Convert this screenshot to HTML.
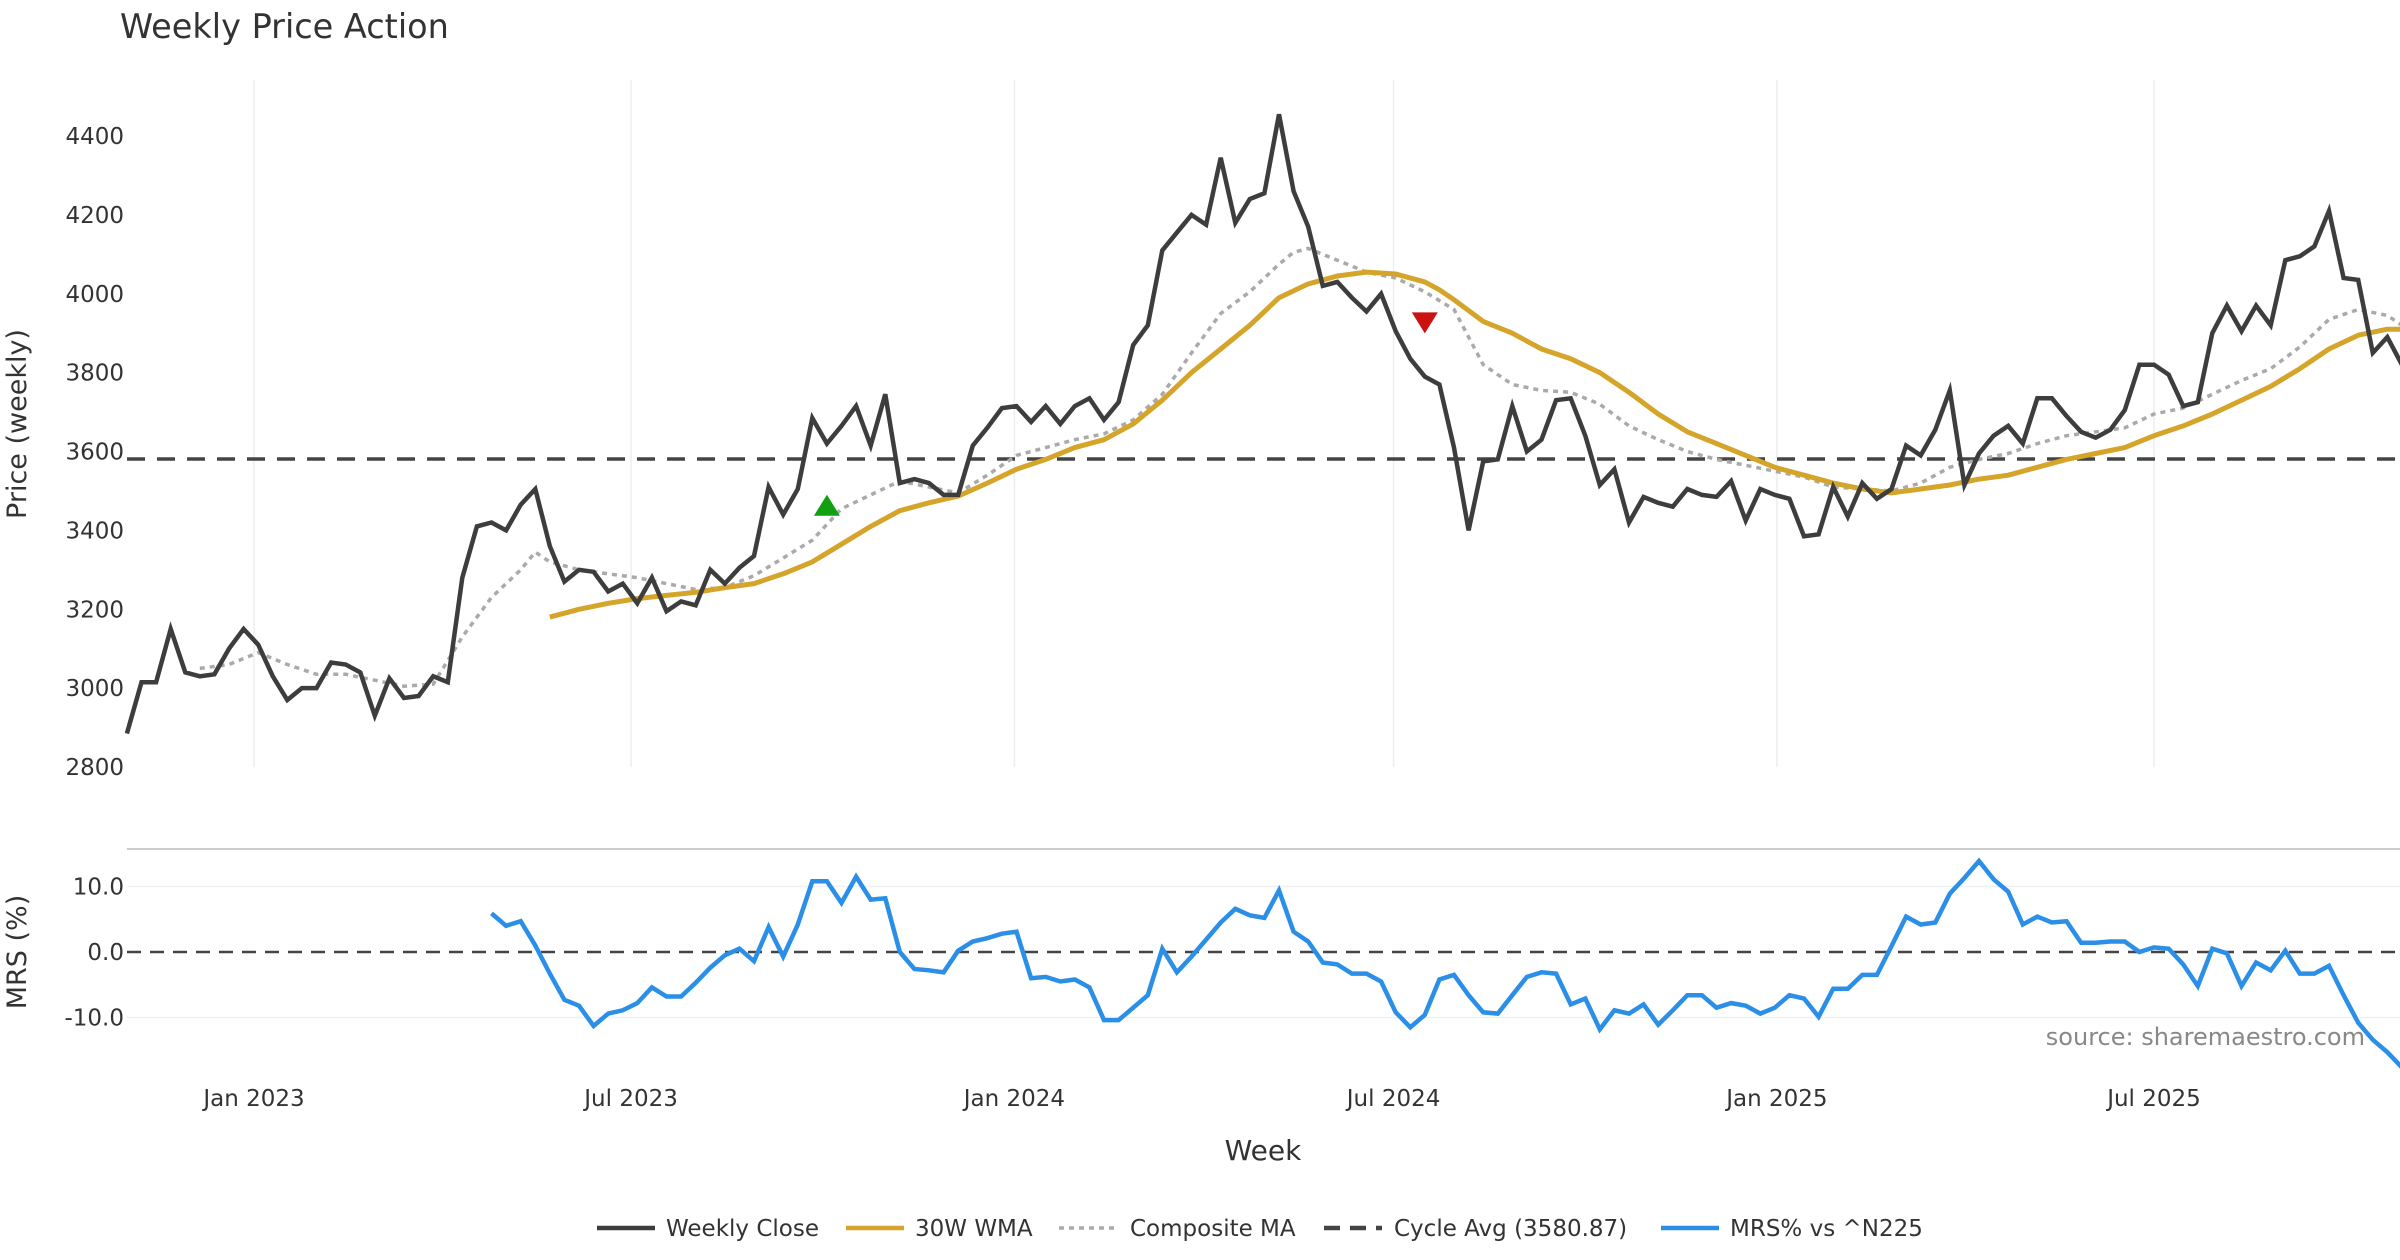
<!DOCTYPE html>
<html><head><meta charset="utf-8"><style>
html,body{margin:0;padding:0;background:#fff;}
svg{display:block;font-family:"DejaVu Sans","Liberation Sans",sans-serif;}
</style></head><body>
<svg id="chart" width="2400" height="1260" viewBox="0 0 2400 1260" xmlns="http://www.w3.org/2000/svg">
<text x="120" y="38" font-size="33.5" fill="#333">Weekly Price Action</text>
<g id="grid"></g>
<g id="axes"></g>
<g id="series"></g>
<text transform="translate(26,424) rotate(-90)" text-anchor="middle" font-size="27" fill="#333">Price (weekly)</text>
<text transform="translate(26,952) rotate(-90)" text-anchor="middle" font-size="27" fill="#333">MRS (%)</text>
<text x="1263" y="1160" text-anchor="middle" font-size="28" fill="#333">Week</text>
<text x="2365" y="1045" text-anchor="end" font-size="24" fill="#888">source: sharemaestro.com</text>
<line x1="127" y1="849" x2="2400" y2="849" stroke="#ccc" stroke-width="2"/>
<g id="legend"></g>
</svg>
<script>
const closeVals=[2885,3015,3015,3150,3040,3030,3035,3100,3150,3110,3030,2970,3000,3000,3065,3060,3040,2930,3025,2975,2980,3030,3015,3280,3410,3420,3400,3465,3505,3360,3270,3300,3295,3245,3265,3215,3280,3195,3220,3210,3300,3265,3305,3335,3510,3440,3505,3685,3620,3665,3715,3615,3745,3520,3530,3520,3490,3490,3615,3660,3710,3715,3675,3715,3670,3715,3735,3680,3725,3870,3920,4110,4155,4200,4175,4345,4180,4240,4255,4455,4260,4170,4020,4030,3990,3955,4000,3905,3835,3790,3770,3610,3400,3575,3580,3715,3600,3630,3730,3735,3640,3515,3555,3420,3485,3470,3460,3505,3490,3485,3525,3425,3505,3490,3480,3385,3390,3510,3435,3520,3480,3505,3615,3590,3655,3755,3515,3595,3640,3665,3620,3735,3735,3690,3650,3635,3655,3705,3820,3820,3795,3715,3725,3900,3970,3905,3970,3920,4085,4095,4120,4210,4040,4035,3850,3890,3820];
const wmaWeeks=[29,31,33,35,37,39,41,43,45,47,49,51,53,55,57,59,61,63,65,67,69,71,73,75,77,79,81,83,85,87,89,90,91,93,95,97,99,101,103,105,107,109,111,113,115,117,119,121,123,125,127,129,131,133,135,137,139,141,143,145,147,149,151,153,155,156];
const wmaVals=[3180,3200,3215,3227,3235,3243,3255,3265,3290,3320,3365,3410,3450,3470,3487,3520,3555,3580,3610,3630,3670,3730,3800,3860,3920,3990,4025,4045,4055,4050,4030,4010,3985,3930,3900,3860,3835,3800,3750,3695,3650,3620,3590,3560,3540,3520,3505,3495,3505,3515,3530,3540,3560,3580,3595,3610,3640,3665,3695,3730,3765,3810,3860,3895,3910,3910];
const compWeeks=[5,7,9,11,13,15,17,19,21,23,25,27,28,29,31,33,35,37,39,41,43,45,47,49,51,53,55,57,59,61,63,65,67,69,71,73,75,77,79,80,81,83,85,87,89,91,93,95,97,99,101,103,105,107,109,111,113,115,117,119,121,123,125,127,129,131,133,135,137,139,141,143,145,147,149,151,153,155,156];
const compVals=[3050,3060,3090,3060,3035,3035,3020,3005,3010,3130,3230,3300,3345,3320,3300,3290,3280,3265,3250,3255,3285,3330,3375,3455,3490,3525,3510,3495,3540,3590,3610,3630,3645,3680,3745,3850,3950,4005,4075,4105,4115,4085,4055,4040,4005,3960,3820,3770,3755,3750,3720,3665,3630,3600,3580,3565,3550,3535,3510,3505,3500,3520,3560,3580,3595,3620,3640,3650,3660,3695,3710,3745,3780,3810,3865,3935,3960,3945,3920];
const mrsStart=25;
const mrsVals=[5.9,4.0,4.7,1.0,-3.3,-7.3,-8.2,-11.3,-9.4,-8.9,-7.8,-5.4,-6.8,-6.8,-4.7,-2.4,-0.5,0.5,-1.4,3.8,-0.7,4.2,10.8,10.8,7.5,11.5,8.0,8.2,0,-2.6,-2.8,-3.1,0.2,1.6,2.1,2.8,3.1,-4.0,-3.8,-4.5,-4.2,-5.4,-10.4,-10.4,-8.5,-6.6,0.5,-3.1,-0.7,1.9,4.5,6.6,5.6,5.2,9.4,3.1,1.6,-1.6,-1.9,-3.3,-3.3,-4.5,-9.2,-11.5,-9.6,-4.2,-3.5,-6.6,-9.2,-9.4,-6.6,-3.8,-3.1,-3.3,-8.0,-7.1,-11.8,-8.9,-9.4,-8.0,-11.1,-8.9,-6.6,-6.6,-8.5,-7.8,-8.2,-9.4,-8.5,-6.6,-7.1,-9.9,-5.6,-5.6,-3.5,-3.5,0.9,5.4,4.2,4.5,8.9,11.3,13.9,11.1,9.2,4.2,5.4,4.5,4.7,1.4,1.4,1.6,1.6,0,0.7,0.5,-1.9,-5.2,0.5,-0.2,-5.2,-1.6,-2.8,0.2,-3.3,-3.3,-2.1,-6.6,-10.8,-13.4,-15.3,-17.6];
const cycleAvg=3580.87;
const priceTicks=[2800,3000,3200,3400,3600,3800,4000,4200,4400];
const mrsTicks=[10,0,-10];
const mrsTickLabels=["10.0","0.0","-10.0"];
const dateTicks=["2023-01-01","2023-07-01","2024-01-01","2024-07-01","2025-01-01","2025-07-01"];
const dateTickLabels=["Jan 2023","Jul 2023","Jan 2024","Jul 2024","Jan 2025","Jul 2025"];
const buyWeek=48, buyVal=3460, sellWeek=89, sellVal=3930;

const NS="http://www.w3.org/2000/svg";
const start=new Date("2022-11-01T00:00:00Z").getTime();
const DAY=86400000, PXDAY=1900/912, X0=254-61*PXDAY;
function xDate(ms){return X0+(ms-start)/DAY*PXDAY;}
function xWeek(i){return xDate(start+i*7*DAY);}
function yPrice(v){return 767-(v-2800)*631/1600;}
function yMrs(m){return 952-m*6.55;}
function mk(tag,attrs,parent){const e=document.createElementNS(NS,tag);for(const k in attrs)e.setAttribute(k,attrs[k]);parent.appendChild(e);return e;}
const grid=document.getElementById('grid'),axes=document.getElementById('axes'),ser=document.getElementById('series'),leg=document.getElementById('legend');
const clip=mk('clipPath',{id:'plotclip'},mk('defs',{},document.getElementById('chart')));
mk('rect',{x:125,y:60,width:2275,height:1100},clip);

dateTicks.forEach((d,k)=>{
  const x=xDate(new Date(d+"T00:00:00Z").getTime());
  const g=mk('line',{x1:x,y1:80,x2:x,y2:767,stroke:'#eceef1','stroke-width':1.5},grid);
  
  
  const t=mk('text',{x:x,y:1106,'text-anchor':'middle','font-size':23,fill:'#333'},axes);
  t.textContent=dateTickLabels[k];
  
  
});
priceTicks.forEach(v=>{
  const t=mk('text',{x:124,y:yPrice(v)+8,'text-anchor':'end','font-size':23,fill:'#333'},axes);
  t.textContent=v;
  
  
});
mrsTicks.forEach((m,k)=>{
  if(m!==0){const g=mk('line',{x1:127,y1:yMrs(m),x2:2400,y2:yMrs(m),stroke:'#edf1f6','stroke-width':1.5},grid);
  
  }
  const t=mk('text',{x:124,y:yMrs(m)+8,'text-anchor':'end','font-size':23,fill:'#333'},axes);
  t.textContent=mrsTickLabels[k];
  
  
});
function path(pts){return pts.map((p,i)=>(i?'L':'M')+p[0].toFixed(1)+','+p[1].toFixed(1)).join('');}
const cy=mk('line',{x1:127,y1:yPrice(cycleAvg),x2:2400,y2:yPrice(cycleAvg),stroke:'#444','stroke-width':3.5,'stroke-dasharray':'18,12'},ser);


const zl=mk('line',{x1:127,y1:yMrs(0),x2:2400,y2:yMrs(0),stroke:'#444','stroke-width':2.5,'stroke-dasharray':'14,9'},ser);


const cp=mk('path',{d:path(compWeeks.map((w,i)=>[xWeek(w),yPrice(compVals[i])])),fill:'none',stroke:'#aaa','stroke-width':3.5,'stroke-dasharray':'5,5','clip-path':'url(#plotclip)'},ser);


const wp=mk('path',{d:path(wmaWeeks.map((w,i)=>[xWeek(w),yPrice(wmaVals[i])])),fill:'none',stroke:'#d4a52a','stroke-width':5,'stroke-linejoin':'round','clip-path':'url(#plotclip)'},ser);


const clp=mk('path',{d:path(closeVals.map((v,i)=>[xWeek(i),yPrice(v)])),fill:'none',stroke:'#3d3d3d','stroke-width':4.5,'stroke-linejoin':'miter','clip-path':'url(#plotclip)'},ser);


const mp=mk('path',{d:path(mrsVals.map((m,i)=>[xWeek(mrsStart+i),yMrs(m)])),fill:'none',stroke:'#2b8fe8','stroke-width':4.5,'clip-path':'url(#plotclip)'},ser);


const bx=xWeek(buyWeek),by=yPrice(buyVal);
const bm=mk('polygon',{points:`${bx-13},${by+9} ${bx+13},${by+9} ${bx},${by-12}`,fill:'#12a012'},ser);


const sx=xWeek(sellWeek),sy=yPrice(sellVal);
const sm=mk('polygon',{points:`${sx-13},${sy-9} ${sx+13},${sy-9} ${sx},${sy+12}`,fill:'#cc1111'},ser);



const legItems=[["Weekly Close","#3d3d3d","",597,666],["30W WMA","#d4a52a","",846,915],["Composite MA","#aaa","5,5",1059,1130],["Cycle Avg (3580.87)","#444","16,10",1324,1394],["MRS% vs ^N225","#2b8fe8","",1661,1730]];
legItems.forEach(it=>{
  const l=mk('line',{x1:it[3],y1:1228,x2:it[3]+58,y2:1228,stroke:it[1],'stroke-width':it[2]=="5,5"?3.5:4.5},leg);
  if(it[2])l.setAttribute('stroke-dasharray',it[2]);
  
  
  const t=mk('text',{x:it[4],y:1236,'font-size':23,fill:'#333'},leg);
  t.textContent=it[0];
  
  
});
</script>
</body></html>
